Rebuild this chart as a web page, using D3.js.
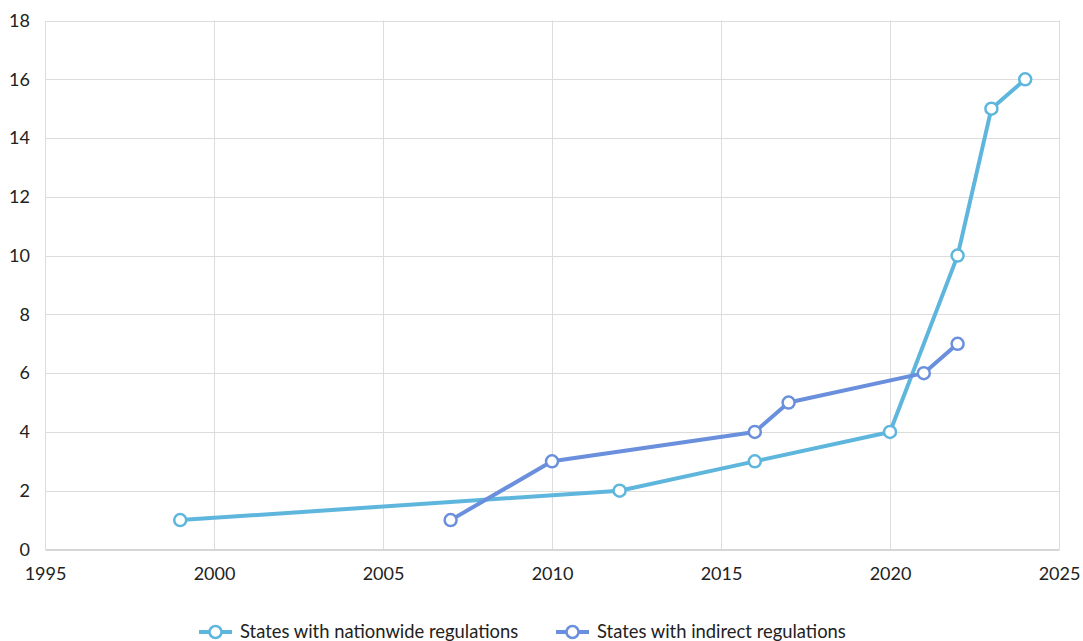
<!DOCTYPE html>
<html><head><meta charset="utf-8">
<script src="https://cdn.jsdelivr.net/npm/d3@7"></script>
<style>body{margin:0;background:#fff;font-family:Lato,"Open Sans",sans-serif;}</style>
</head><body><svg id="c" width="1083" height="641"></svg>
<script>
const nationYears = [1999, 2012, 2016, 2020, 2022, 2023, 2024];
const nationValues = [1, 2, 3, 4, 10, 15, 16];
const indirectYears = [2007, 2010, 2016, 2017, 2021, 2022];
const indirectValues = [1, 3, 4, 5, 6, 7];
const xTicks = [1995, 2000, 2005, 2010, 2015, 2020, 2025];
const yTicks = [0, 2, 4, 6, 8, 10, 12, 14, 16, 18];
const seriesNames = ["States with nationwide regulations", "States with indirect regulations"];
const colors = ["#5fb6dd", "#6a8fdc"];

const svg = d3.select("#c");
const L = 45, R = 1059, T = 20.5, B = 549.5;
const x = d3.scaleLinear().domain([1995, 2025]).range([L, R]);
const y = d3.scaleLinear().domain([0, 18]).range([B, T]);

// grid
svg.append("g").selectAll("line").data(yTicks.slice(1)).join("line")
  .attr("x1", L).attr("x2", R).attr("y1", d => Math.round(y(d)) + 0.5).attr("y2", d => Math.round(y(d)) + 0.5)
  .attr("stroke", "#dcdcdc").attr("stroke-width", 1);
svg.append("g").selectAll("line").data(xTicks.slice(1)).join("line")
  .attr("x1", d => Math.round(x(d)) + 0.5).attr("x2", d => Math.round(x(d)) + 0.5).attr("y1", T).attr("y2", B)
  .attr("stroke", "#dcdcdc").attr("stroke-width", 1);

// axes
const xAxis = svg.append("g").attr("transform", `translate(0,${B})`)
  .call(d3.axisBottom(x).tickValues(xTicks).tickFormat(d3.format("d")).tickSize(0).tickPadding(18));
xAxis.select(".domain").attr("stroke", "#c8c8c8").attr("stroke-width", 1.5);
xAxis.selectAll("text").attr("font-size", 18).attr("fill", "#222").attr("font-family", "Lato");

const yAxis = svg.append("g").attr("transform", `translate(${L},0)`)
  .call(d3.axisLeft(y).tickValues(yTicks).tickSize(0).tickPadding(15));
yAxis.select(".domain").attr("stroke", "#dcdcdc").attr("stroke-width", 1);
yAxis.selectAll("text").attr("font-size", 18).attr("fill", "#222").attr("font-family", "Lato");

const series = [
  {name: seriesNames[0], color: colors[0], pts: nationYears.map((d, i) => [d, nationValues[i]])},
  {name: seriesNames[1], color: colors[1], pts: indirectYears.map((d, i) => [d, indirectValues[i]])}
];
const line = d3.line().x(d => x(d[0])).y(d => y(d[1]));
series.forEach(s => {
  svg.append("path").datum(s.pts).attr("d", line).attr("fill", "none")
    .attr("stroke", s.color).attr("stroke-width", 4).attr("stroke-linejoin", "round");
});
series.forEach(s => {
  svg.append("g").selectAll("circle").data(s.pts).join("circle")
    .attr("cx", d => x(d[0])).attr("cy", d => y(d[1])).attr("r", 6)
    .attr("fill", "#fff").attr("stroke", s.color).attr("stroke-width", 2.5);
});

// legend
const leg = svg.append("g").attr("transform", "translate(0,632)");
const legX = [199, 556];
series.forEach((s, i) => {
  const g = leg.append("g").attr("transform", `translate(${legX[i]},0)`);
  g.append("line").attr("x1", 0).attr("x2", 33).attr("y1", 0).attr("y2", 0).attr("stroke", s.color).attr("stroke-width", 4);
  g.append("circle").attr("cx", 16.5).attr("cy", 0).attr("r", 6).attr("fill", "#fff").attr("stroke", s.color).attr("stroke-width", 2.5);
  g.append("text").attr("x", 41).attr("y", 0).attr("dy", "0.35em").attr("font-size", 18.4).attr("fill", "#222")
    .attr("font-family", "Lato").text(s.name);
});
</script></body></html>
